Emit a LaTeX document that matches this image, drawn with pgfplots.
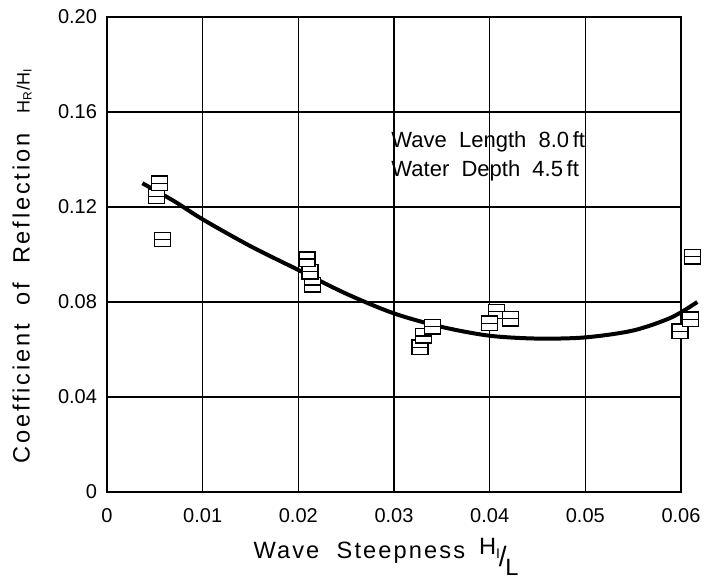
\documentclass[border=0pt]{standalone}
\usepackage{fontspec}
\setmainfont[WordSpace=2.0]{Liberation Sans}
\usepackage{pgfplots}
\pgfplotsset{compat=1.18}

% open box with a line across the middle
\pgfdeclareplotmark{boxline}{%
  \pgfpathrectangle{\pgfpoint{-4pt}{-3.6pt}}{\pgfpoint{8pt}{7.2pt}}%
  \pgfusepathqfillstroke
  \pgfpathmoveto{\pgfpoint{-4pt}{0pt}}%
  \pgfpathlineto{\pgfpoint{4pt}{0pt}}%
  \pgfusepathqstroke}

\newcommand{\lbl}{\fontsize{11.8}{14}\selectfont\addfontfeatures{LetterSpace=12}}

\begin{document}
\begin{tikzpicture}
% page = 708x580 px at 0.5pt per px, axis box from (107,17) to (681,492)
\useasboundingbox (-53.5pt,-44pt) rectangle (300.5pt,246pt);
\begin{axis}[
    at={(0,0)}, anchor=south west,
    width=287pt, height=237.5pt,
    scale only axis,
    xmin=0, xmax=0.06,
    ymin=0, ymax=0.20,
    xtick={0,0.01,0.02,0.03,0.04,0.05,0.06},
    xticklabels={0,0.01,0.02,0.03,0.04,0.05,0.06},
    ytick={0,0.04,0.08,0.12,0.16,0.20},
    yticklabels={0,0.04,0.08,0.12,0.16,0.20},
    scaled ticks=false,
    major tick length=0pt,
    grid=major,
    major grid style={black, line width=0.7pt},
    axis line style={line width=0.9pt},
    tick label style={font=\fontsize{10}{12}\selectfont},
    xticklabel style={yshift=-4.5pt},
    yticklabel style={xshift=-1.5pt},
    xlabel={\fontsize{11.8}{14}\selectfont\addfontfeatures{LetterSpace=9}Wave Steepness\hspace{7pt}{\addfontfeatures{LetterSpace=0}\raisebox{0.25ex}{H\textsubscript{\fontsize{7}{8}\selectfont I}}\kern-0.1em\raisebox{-0.7ex}{\fontsize{14}{14}\selectfont /}\kern-0.05em\raisebox{-1.4ex}{L}}},
    xlabel style={at={(axis description cs:0.5,0)}, anchor=base, yshift=-33pt, xshift=-4pt},
    ylabel={\lbl Coefficient of Reflection\hspace{10pt}{\addfontfeatures{LetterSpace=0}\fontsize{9}{10}\selectfont H\textsubscript{R}/H\textsubscript{I}}},
    ylabel style={at={(axis description cs:-0.148,0.476)}, anchor=center},
    clip=false,
]
% fitted curve
\addplot[black, line width=2pt, smooth, no markers] coordinates {
(0.0037,0.1300)(0.0070,0.1225)(0.0100,0.1148)(0.0150,0.1035)
(0.0200,0.0935)(0.0250,0.0835)(0.0300,0.0752)(0.0350,0.0695)
(0.0400,0.0658)(0.0450,0.0646)(0.0500,0.0651)(0.0550,0.0680)
(0.0590,0.0735)(0.0617,0.0800)
};
% measured points
\addplot[only marks, mark=boxline, mark options={draw=black, fill=white, line width=0.7pt}] coordinates {
(0.0052,0.1245)(0.0055,0.1300)(0.0058,0.1063)
(0.0215,0.0872)(0.0212,0.0928)(0.0209,0.0981)
(0.0327,0.0609)(0.0331,0.0657)(0.0340,0.0696)
(0.0407,0.0760)(0.0400,0.0710)(0.0422,0.0730)
(0.0599,0.0677)(0.0610,0.0727)(0.0612,0.0991)
};
\node[anchor=west, align=left, font=\fontsize{11}{14.5}\selectfont]
  at (axis cs:0.0290,0.1413) {Wave Length 8.0\,ft\\Water Depth 4.5\,ft};
\end{axis}
\end{tikzpicture}
\end{document}
